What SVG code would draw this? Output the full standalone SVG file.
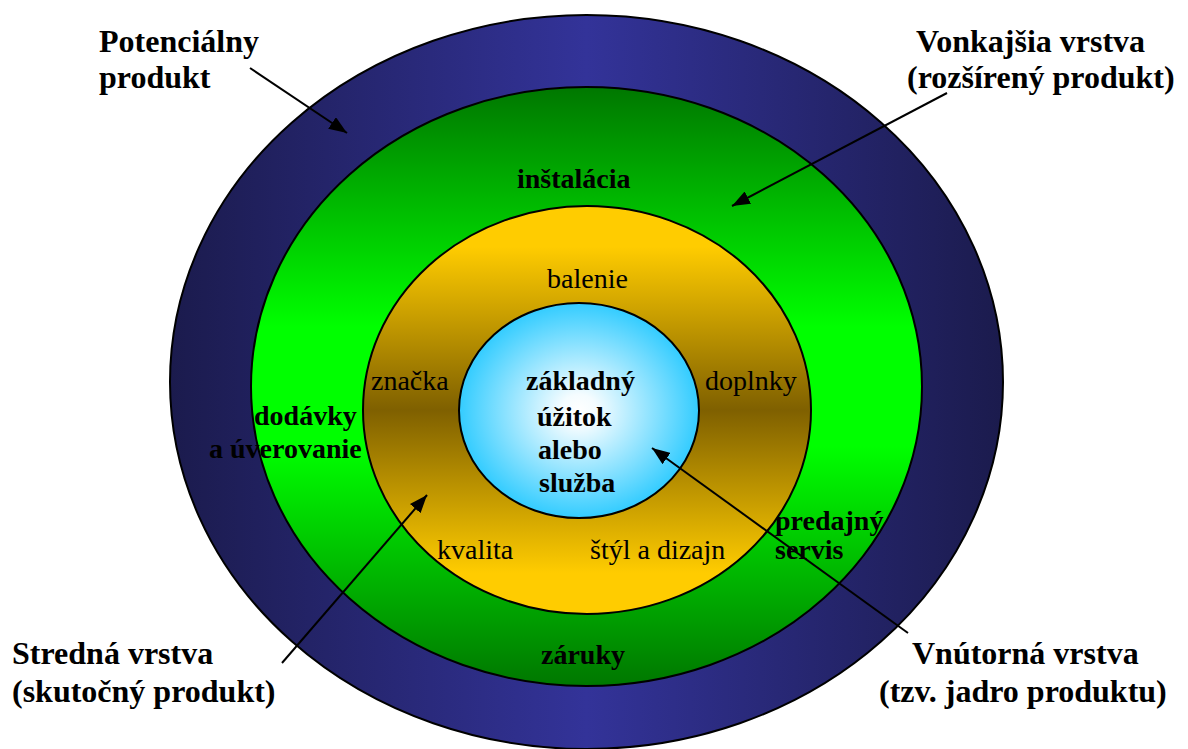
<svg xmlns="http://www.w3.org/2000/svg" width="1188" height="749" viewBox="0 0 1188 749">
<defs>
<linearGradient id="gNavy" x1="0" y1="0" x2="1" y2="0">
<stop offset="0" stop-color="#1b1b4d"/>
<stop offset="0.5" stop-color="#333399"/>
<stop offset="1" stop-color="#1b1b4d"/>
</linearGradient>
<linearGradient id="gGreen" x1="0" y1="0" x2="0" y2="1">
<stop offset="0" stop-color="#007700"/>
<stop offset="0.4" stop-color="#00ff00"/>
<stop offset="0.6" stop-color="#00ff00"/>
<stop offset="1" stop-color="#007700"/>
</linearGradient>
<linearGradient id="gGold" x1="0" y1="0" x2="0" y2="1">
<stop offset="0" stop-color="#ffcc00"/>
<stop offset="0.1" stop-color="#ffcc00"/>
<stop offset="0.5" stop-color="#7f6000"/>
<stop offset="0.9" stop-color="#ffcc00"/>
<stop offset="1" stop-color="#ffcc00"/>
</linearGradient>
<radialGradient id="gCyan" cx="0.5" cy="0.5" r="0.5">
<stop offset="0" stop-color="#ffffff"/>
<stop offset="0.15" stop-color="#f4fcff"/>
<stop offset="1" stop-color="#33ccff"/>
</radialGradient>
<marker id="arr" markerUnits="userSpaceOnUse" markerWidth="18" markerHeight="14" refX="18" refY="7" orient="auto">
<path d="M0,0 L18,7 L0,14 z" fill="#000"/>
</marker>
</defs>
<style>
.ring{stroke:#000;stroke-width:2}
.b{font-weight:bold}
.lbl{font-size:32px}
.in{font-size:28px}
.conn{stroke:#000;stroke-width:2;fill:none;marker-end:url(#arr)}
</style>
<rect width="1188" height="749" fill="#fff"/>
<g font-family="Liberation Serif, Times New Roman, DejaVu Serif, serif" fill="#000">
<g id="outer">
<ellipse class="ring" cx="586.5" cy="382" rx="416.5" ry="367" fill="url(#gNavy)"/>
</g>
<g id="extended">
<ellipse class="ring" cx="586.5" cy="386.5" rx="335.5" ry="299.5" fill="url(#gGreen)"/>
<text class="b in" x="517" y="188">inštalácia</text>
<text class="b in" x="254" y="425">dodávky</text>
<text class="b in" x="209" y="458">a úverovanie</text>
<text class="b in" x="775" y="530">predajný</text>
<text class="b in" x="775" y="559">servis</text>
<text class="b in" x="541" y="664">záruky</text>
</g>
<g id="actual">
<ellipse class="ring" cx="587" cy="410" rx="224" ry="204" fill="url(#gGold)"/>
<text class="in" x="547" y="288">balenie</text>
<text class="in" x="371" y="390">značka</text>
<text class="in" x="705" y="390">doplnky</text>
<text class="in" x="437" y="559">kvalita</text>
<text class="in" x="590" y="559">štýl a dizajn</text>
</g>
<g id="core">
<ellipse class="ring" cx="579" cy="410.5" rx="120" ry="107.5" fill="url(#gCyan)"/>
<text class="b in" x="526" y="390">základný</text>
<text class="b in" x="537" y="426">úžitok</text>
<text class="b in" x="538" y="459">alebo</text>
<text class="b in" x="539" y="492">služba</text>
</g>
<g id="label-potential">
<text class="b lbl" x="99" y="52">Potenciálny</text>
<text class="b lbl" x="99" y="88">produkt</text>
</g>
<g id="label-outer">
<text class="b lbl" x="916" y="52">Vonkajšia vrstva</text>
<text class="b lbl" x="907" y="88">(rozšírený produkt)</text>
</g>
<g id="label-middle">
<text class="b lbl" x="12" y="664">Stredná vrstva</text>
<text class="b lbl" x="12" y="702">(skutočný produkt)</text>
</g>
<g id="label-inner">
<text class="b lbl" x="912" y="664">Vnútorná vrstva</text>
<text class="b lbl" x="879" y="702">(tzv. jadro produktu)</text>
</g>
</g>
<g id="connectors">
<line class="conn" x1="250" y1="68" x2="347" y2="133"/>
<line class="conn" x1="947" y1="93" x2="732" y2="206"/>
<line class="conn" x1="282" y1="663" x2="427" y2="495"/>
<line class="conn" x1="908" y1="633" x2="652" y2="448"/>
</g>
</svg>
